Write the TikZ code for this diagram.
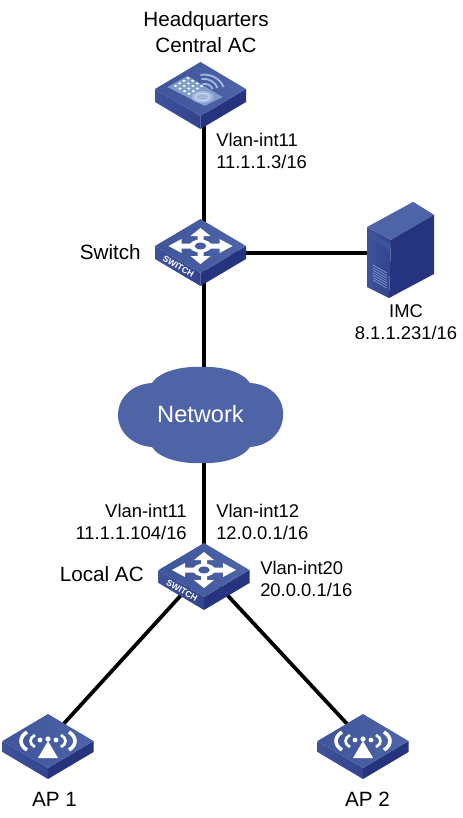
\documentclass[tikz,border=0pt]{standalone}
\usepackage{fontspec}
\setmainfont{Liberation Sans}
\definecolor{facetop}{HTML}{4D65A8}
\definecolor{facetopdk}{HTML}{3F5499}
\definecolor{faceleft}{HTML}{3F529C}
\definecolor{faceleftdk}{HTML}{33438F}
\definecolor{faceright}{HTML}{26337F}
\definecolor{cloudblue}{HTML}{4E64A6}
\definecolor{panelblue}{HTML}{7F9CCB}
\definecolor{arcblue}{HTML}{A3B6DB}
\usetikzlibrary{positioning,calc}
\newcommand{\blockbody}[1]{%
  \shade[left color=faceleft, right color=faceleftdk] (-45.5,0) -- (0,27) -- (0,27+#1) -- (-45.5,#1) -- cycle;
  \fill[faceright] (45.5,0) -- (0,27) -- (0,27+#1) -- (45.5,#1) -- cycle;
  \shade[left color=facetopdk, right color=facetop] (0,-27) -- (45.5,0) -- (0,27) -- (-45.5,0) -- cycle;
}
\begin{document}
\begin{tikzpicture}[x=0.75pt, y=-0.75pt,
  font=\fontsize{13.8}{17}\selectfont,
  devfont/.style={font=\fontsize{15.5}{19.5}\selectfont},
  link/.style={line width=3pt, black},
  anchorbox/.style={inner sep=0pt, minimum size=0pt},
  txt/.style={align=center, inner sep=0pt, text=black},
  txtl/.style={align=left, inner sep=0pt, text=black},
  txtr/.style={align=right, inner sep=0pt, text=black},
  swicon/.pic={
    \blockbody{13}
    \fill[white, even odd rule] (0,0) ellipse (11 and 6.5) (0,0) ellipse (6 and 3.5);
    \foreach \s in {1,-1} {
      \fill[white] (\s*9,-2.5) -- (\s*19,-2.5) -- (\s*19,-7) -- (\s*32,0) -- (\s*19,7) -- (\s*19,2.5) -- (\s*9,2.5) -- cycle;
      \fill[white] (-3,\s*5) -- (-3,\s*10) -- (-10,\s*10) -- (0,\s*18) -- (10,\s*10) -- (3,\s*10) -- (3,\s*5) -- cycle;
    }
    \node[text=white, inner sep=0pt, rotate=-30] at (-22,20.5) {\fontsize{6.5}{7}\selectfont\bfseries SWITCH};
  },
  apicon/.pic={
    \blockbody{11}
    \fill[white] (0,0) -- (10,17) -- (-10,17) -- cycle;
    \fill[white] (0,-2) circle (2.6);
    \foreach \s in {1,-1} {
      \fill[white] (\s*8,-1) circle (2.4);
      \draw[white, line width=2pt] (\s*13,-6) .. controls (\s*19,-3) and (\s*19,3) .. (\s*13,6);
      \draw[white, line width=2.7pt] (\s*21,-9) .. controls (\s*29,-4) and (\s*29,4) .. (\s*21,9);
    }
  },
  acicon/.pic={
    \blockbody{13}
    \fill[panelblue] (-33,-2) -- (-13,-13) -- (22,8) -- (4,17) -- cycle;
    \fill[arcblue] (2,8) ellipse (11 and 6);
    \draw[white!70!panelblue, line width=0.6pt] (2,8) ellipse (7 and 3.8);
    \foreach \i in {0,...,3} \foreach \j in {0,...,3}
      \fill[white] ({-25+\i*4.5+\j*4.2}, {-3+\i*2.6-\j*2.6}) ellipse (1.7 and 1.2);
    \draw[arcblue, line width=1.4pt] (2,-5) .. controls (7,-6) and (11,-3) .. (12,0);
    \draw[arcblue, line width=1.4pt] (1,-10) .. controls (8,-11) and (15,-7) .. (17,-1);
    \draw[arcblue, line width=1.4pt] (0,-14) .. controls (10,-16) and (20,-10) .. (23,-2);
  },
  srvicon/.pic={
    \fill[faceright] (46,-25) -- (67,-12) -- (67,47) -- (22,71) -- (24,13) -- cycle;
    \shade[left color=faceleft, right color=faceleftdk] (0,0) -- (24,13) -- (22,71) -- (0,60) -- cycle;
    \fill[facetop] (0,0) -- (46,-25) -- (67,-12) -- (24,13) -- cycle;
    \fill[facetopdk] (1,4) -- (23,17) -- (23,23) -- (1,10) -- cycle;
    \foreach \k in {0,...,6}
      \draw[panelblue, line width=0.5pt] (6,{38+\k*2.5}) -- (20,{46+\k*2.5});
  }
]
  % devices
  \node[anchorbox] (ac) at (200.5,89) {};
  \node[anchorbox] (sw) at (200.5,246) {};
  \node[anchorbox] (srv) at (367,227) {};
  \node[anchorbox] (net) at (200.5,414) {};
  \node[anchorbox] (lac) at (204,570) {};
  \node[anchorbox] (apa) at (48,741) {};
  \node[anchorbox] (apb) at (363,741) {};
  \coordinate (srvport) at (370,253);

  \draw[link] (lac.center |- ac.center) -- (lac.center |- sw.center);
  \draw[link] (sw.center |- srvport) -- (srvport);
  \draw[link] (lac.center |- sw.center) -- (lac.center |- net.center);
  \draw[link] (lac.center |- net.center) -- (lac.center);
  \draw[link, line width=2.8pt] (lac.center) -- (apa.center);
  \draw[link, line width=2.8pt] (lac.center) -- (apb.center);

  \pic at (ac) {acicon};
  \pic at (sw) {swicon};
  \pic at (srv) {srvicon};
  \pic at (lac) {swicon};
  \pic at (apa) {apicon};
  \pic at (apb) {apicon};
  \fill[cloudblue] (201,367) .. controls (222,366) and (243,372) .. (250,383)
    .. controls (270,384) and (284,398) .. (283,415)
    .. controls (283,433) and (268,446) .. (250,447)
    .. controls (243,458) and (222,464) .. (201,463)
    .. controls (180,464) and (159,458) .. (152,447)
    .. controls (134,446) and (118,433) .. (118,415)
    .. controls (118,398) and (132,384) .. (152,383)
    .. controls (159,372) and (180,366) .. (201,367) -- cycle;
  \node[txt, text=white, font=\fontsize{17.7}{20}\selectfont] (netlbl) at (net) {Network};

  \node[txt, devfont] (aclbl) at (206,32) {Headquarters\\Central AC};
  \node[txtl, anchor=west] (acport) at (216,151) {Vlan-int11\\11.1.1.3/16};
  \node[txt, devfont, anchor=east] (swlbl) at (141,252) {Switch};
  \node[txt] (srvlbl) at (406,322) {IMC\\8.1.1.231/16};
  \node[txtr, anchor=east] (lacport) at (187,522) {Vlan-int11\\11.1.1.104/16};
  \node[txtl, anchor=west] (lacup) at (216,522) {Vlan-int12\\12.0.0.1/16};
  \node[txtl, anchor=west] (lacdown) at (260,579) {Vlan-int20\\20.0.0.1/16};
  \node[txt, devfont, anchor=east] (laclbl) at (144,574) {Local AC};
  \node[txt, devfont] (apalbl) at (54.5,799) {AP 1};
  \node[txt, devfont] (apblbl) at (367.5,799) {AP 2};
  \useasboundingbox (0,0) rectangle (462,818);
\end{tikzpicture}
\end{document}
